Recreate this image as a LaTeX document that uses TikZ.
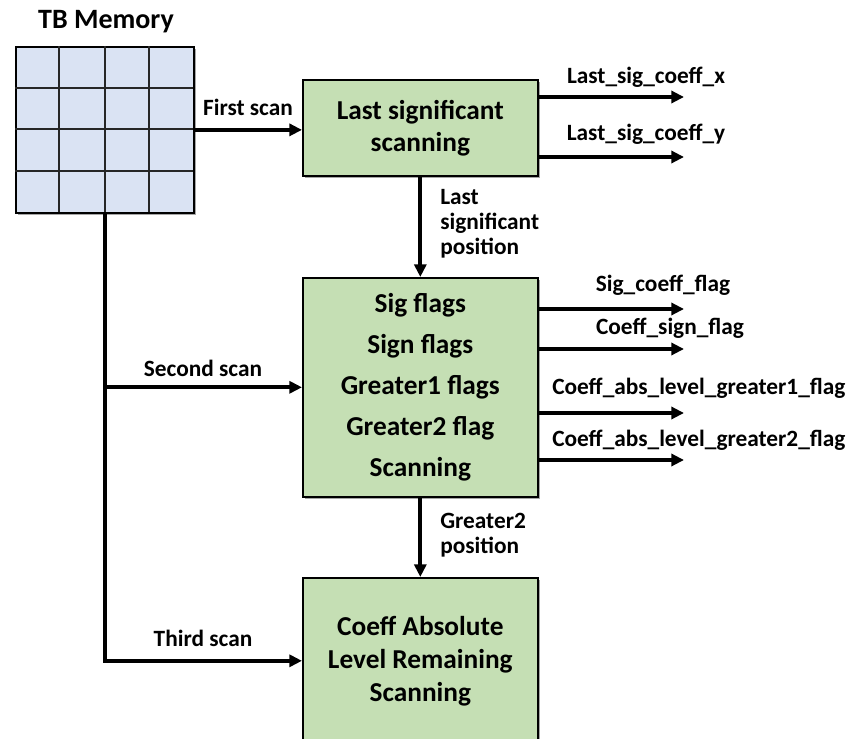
\documentclass[tikz,border=0pt]{standalone}
\usepackage{fontspec}
\setmainfont{Carlito}
\usetikzlibrary{arrows.meta,shadows}
\definecolor{boxgreen}{HTML}{C5DFB4}
\definecolor{gridblue}{HTML}{DAE3F3}
\tikzset{
  box/.style={draw=black, line width=1.2pt, fill=boxgreen, anchor=north west,
    minimum width=176.25pt, align=center, inner sep=0pt,
    drop shadow={shadow xshift=1.5pt, shadow yshift=-1.5pt, opacity=0.35, fill=black},
    font=\bfseries\fontsize{20.5}{24}\selectfont},
  arr/.style={line width=3pt, -{Triangle[length=9.5pt,width=9pt]}},
  lbl/.style={font=\bfseries\fontsize{17.5}{18.75}\selectfont, inner sep=0pt},
  gridline/.style={line width=1pt, draw=black!85}
}
\begin{document}
\begin{tikzpicture}[x=0.75pt,y=-0.75pt]
\useasboundingbox (0,0) rectangle (852,738);
\clip (0,0) rectangle (852,738);

% TB memory
\node[font=\bfseries\fontsize{21}{24}\selectfont] (title) at (106,22) {TB Memory};
\node[draw=black, line width=1.3pt, fill=gridblue, anchor=north west,
  minimum width=133.5pt, minimum height=124.5pt, inner sep=0pt,
  drop shadow={shadow xshift=1.5pt, shadow yshift=-1.5pt, opacity=0.35, fill=black}] (mem) at (15,46) {};
\foreach \gx in {59,105,149} \draw[gridline] (\gx,46) -- (\gx,212);
\foreach \gy in {88,129,171} \draw[gridline] (15,\gy) -- (193,\gy);

% boxes
\node[box, minimum height=72pt] (b1) at (302,79) {Last significant\\scanning};
\node[box, minimum height=164.25pt, font=\bfseries\fontsize{20.5}{30.75}\selectfont] (b2) at (302,277)
  {Sig flags\\Sign flags\\Greater1 flags\\Greater2 flag\\Scanning};
\node[box, minimum height=124.5pt, font=\bfseries\fontsize{20.5}{24.75}\selectfont] (b3) at (302,577)
  {Coeff Absolute\\Level Remaining\\Scanning};

% scans
\draw[arr] (mem.east) -- (mem.east -| b1.west);
\node[lbl] (l1) at (248,107) {First scan};
\draw[arr] (mem.south) |- (b3.west);
\node[lbl] (l3) at (203,638) {Third scan};
\draw[arr] (mem.south |- b2.west) -- (b2.west);
\node[lbl] (l2) at (203,368) {Second scan};

% vertical flow
\draw[arr] (b1.south) -- (b2.north);
\node[lbl, align=left, anchor=west] (lp) at (440,224) {Last\\significant\\position};
\draw[arr] (b2.south) -- (b3.north);
\node[lbl, align=left, anchor=west] (gp) at (440,535) {Greater2\\position};

% outputs of b1
\coordinate (ox) at (684,97);
\coordinate (oy) at (684,157);
\draw[arr] (b1.east |- ox) -- (ox);
\draw[arr] (b1.east |- oy) -- (oy);
\node[lbl] (tx) at (646,77) {Last\_sig\_coeff\_x};
\node[lbl] (ty) at (646,134) {Last\_sig\_coeff\_y};

% outputs of b2
\coordinate (o1) at (684,309);
\coordinate (o2) at (684,349);
\coordinate (o3) at (684,413);
\coordinate (o4) at (684,460);
\draw[arr] (b2.east |- o1) -- (o1);
\draw[arr] (b2.east |- o2) -- (o2);
\draw[arr] (b2.east |- o3) -- (o3);
\draw[arr] (b2.east |- o4) -- (o4);
\node[lbl] (t1) at (663,285) {Sig\_coeff\_flag};
\node[lbl] (t2) at (670,328) {Coeff\_sign\_flag};
\node[lbl, anchor=west] (t3) at (552,388) {Coeff\_abs\_level\_greater1\_flag};
\node[lbl, anchor=west] (t4) at (552,440) {Coeff\_abs\_level\_greater2\_flag};
\end{tikzpicture}
\end{document}
